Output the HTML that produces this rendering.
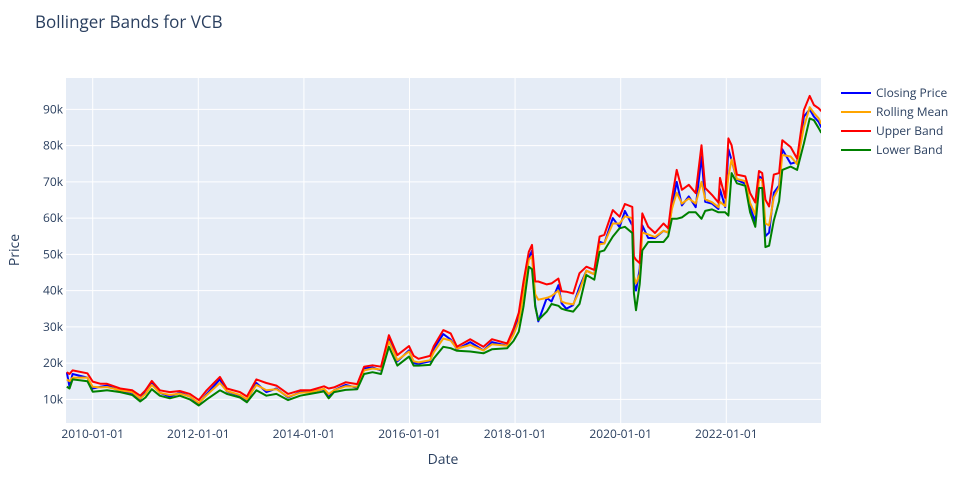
<!DOCTYPE html>
<html><head><meta charset="utf-8"><style>
body{margin:0;background:#fff;}
svg{font-family:"Open Sans","Liberation Sans",sans-serif;}
</style></head><body>
<svg id="chart" width="957" height="475" xmlns="http://www.w3.org/2000/svg">
<rect x="0" y="0" width="957" height="475" fill="#fff"/>
<rect x="66" y="78" width="755" height="345" fill="#e5ecf6"/>
<g id="grid"></g>
<defs><clipPath id="clip"><rect x="66" y="78" width="755" height="345"/></clipPath></defs>
<g id="series" clip-path="url(#clip)"></g>
<g id="ticks"></g>
<text x="35" y="28" font-size="17" fill="#2a3f5f">Bollinger Bands for VCB</text>
<text x="443" y="464" font-size="14" fill="#2a3f5f" text-anchor="middle">Date</text>
<text x="19" y="250" font-size="14" fill="#2a3f5f" text-anchor="middle" transform="rotate(-90 19 250)">Price</text>
<g id="legend"></g>
</svg>
<script>
const dates=[2009.51,2009.56,2009.62,2009.9,2010.0,2010.15,2010.27,2010.52,2010.75,2010.9,2011.0,2011.12,2011.27,2011.46,2011.65,2011.84,2012.01,2012.16,2012.41,2012.54,2012.79,2012.92,2013.1,2013.29,2013.48,2013.7,2013.93,2014.12,2014.38,2014.47,2014.57,2014.79,2015.01,2015.14,2015.3,2015.46,2015.61,2015.77,2015.99,2016.08,2016.17,2016.39,2016.46,2016.64,2016.78,2016.9,2017.15,2017.4,2017.56,2017.85,2017.97,2018.07,2018.16,2018.26,2018.32,2018.38,2018.44,2018.6,2018.69,2018.82,2018.88,2018.97,2019.1,2019.22,2019.35,2019.5,2019.6,2019.69,2019.85,2019.98,2020.08,2020.22,2020.25,2020.29,2020.36,2020.41,2020.52,2020.65,2020.81,2020.9,2020.97,2021.06,2021.16,2021.29,2021.42,2021.53,2021.6,2021.73,2021.85,2021.88,2021.98,2022.04,2022.1,2022.2,2022.36,2022.45,2022.55,2022.62,2022.68,2022.74,2022.81,2022.9,2023.0,2023.06,2023.22,2023.34,2023.47,2023.58,2023.66,2023.75,2023.8];
const closePrice=[17.5,13.5,17.0,16.0,13.0,13.5,13.8,12.3,11.8,10.0,12.5,14.8,11.8,10.8,11.8,10.8,8.8,11.5,15.5,12.2,11.0,9.5,14.5,12.0,13.0,10.5,12.0,12.2,12.8,10.5,12.5,14.0,13.2,18.5,18.8,18.0,27.0,20.5,23.5,20.0,19.8,20.5,24.0,28.0,26.5,23.8,25.8,23.5,25.8,24.8,28.5,33.0,41.0,49.0,51.0,36.0,31.5,38.0,37.0,41.5,36.5,35.0,36.0,41.0,45.5,44.5,53.5,53.0,60.0,57.5,62.0,58.0,42.0,40.0,46.0,58.0,54.5,54.5,56.5,56.0,63.0,70.0,63.5,66.0,63.0,77.0,64.5,64.0,62.5,68.0,63.0,79.0,76.0,70.5,69.5,63.0,59.0,71.5,71.0,55.0,56.0,67.0,69.0,79.0,75.0,75.5,88.0,90.0,88.0,86.5,85.0];
const rollingMean=[15.5,15.0,16.0,16.0,13.5,13.3,13.4,12.5,12.0,10.2,11.5,14.0,11.8,11.2,11.6,10.8,9.0,11.2,14.5,12.3,11.2,10.0,14.0,12.5,12.8,10.7,11.8,12.0,12.9,11.5,12.5,13.6,13.5,18.0,18.5,18.2,26.0,20.8,23.2,20.5,20.2,20.8,23.0,26.8,26.2,24.0,25.0,23.5,25.2,24.8,27.8,31.5,39.0,48.5,49.5,39.0,37.5,38.0,38.5,40.0,37.0,36.5,36.2,40.0,45.5,44.5,52.8,53.0,58.5,58.5,60.5,60.0,44.0,42.0,44.5,56.0,55.5,54.8,56.5,56.0,62.5,67.0,64.0,65.4,64.0,70.0,65.2,64.4,63.0,64.5,63.3,71.5,76.2,70.8,70.2,64.2,61.0,70.6,70.5,58.5,58.0,65.7,68.5,77.4,77.0,74.9,85.2,90.6,89.0,87.5,86.0];
const upperBand=[17.5,17.0,18.0,17.2,14.9,14.3,14.3,13.0,12.5,11.0,12.5,15.1,12.5,12.0,12.3,11.5,9.8,12.5,16.2,13.0,12.0,10.8,15.5,14.5,13.8,11.5,12.5,12.5,13.6,13.0,13.3,14.7,14.2,19.0,19.4,19.0,27.7,22.2,24.7,22.0,21.2,22.0,24.7,29.1,28.2,24.5,26.6,24.5,26.6,25.4,29.5,33.9,42.5,50.7,52.6,42.5,42.5,41.7,42.0,43.3,39.8,39.7,39.2,44.8,46.6,45.7,54.9,55.4,62.2,60.4,63.9,63.1,49.4,48.5,47.6,61.3,57.6,55.9,58.5,57.2,65.4,73.3,67.8,69.2,66.9,80.1,68.3,66.4,64.3,71.1,65.6,82.0,80.1,72.0,71.5,66.9,64.3,73.0,72.4,65.1,63.2,72.0,72.4,81.5,79.6,76.4,89.8,93.7,91.2,90.3,89.5];
const lowerBand=[13.5,13.0,15.5,15.0,12.1,12.3,12.5,12.0,11.2,9.4,10.5,12.8,11.0,10.3,11.0,10.0,8.3,10.0,12.5,11.5,10.5,9.2,12.5,11.0,11.5,9.8,11.0,11.5,12.2,10.3,12.0,12.6,12.8,17.0,17.5,17.0,24.5,19.3,21.8,19.3,19.3,19.5,21.3,24.5,24.1,23.4,23.2,22.7,23.8,24.1,26.1,28.7,35.6,46.6,45.9,35.6,31.9,34.2,36.3,35.8,35.0,34.6,34.2,36.3,44.3,43.0,50.7,51.1,54.9,57.2,57.6,55.9,39.3,34.6,41.8,51.1,53.4,53.4,53.4,55.0,59.8,59.8,60.2,61.6,61.6,59.8,62.0,62.4,61.6,61.6,61.6,60.7,72.4,69.6,68.9,61.6,57.6,68.3,68.3,52.0,52.4,59.3,64.6,73.3,74.2,73.3,80.6,87.5,87.0,84.8,83.5];
const yTicks=[10,20,30,40,50,60,70,80,90];
const xTickYears=[2010,2012,2014,2016,2018,2020,2022];
const seriesNames=["Closing Price","Rolling Mean","Upper Band","Lower Band"];
const seriesColors=["#0000ff","#ffa500","#ff0000","#008000"];

const NS="http://www.w3.org/2000/svg";
const X0=66,X1=821,Y0=78,Y1=423;
function xScale(yr){return 92.7+(yr-2010)*52.8;}
function yScale(v){return 435.6-v*3.625;}
function mk(tag,attrs,parent){const e=document.createElementNS(NS,tag);for(const k in attrs)e.setAttribute(k,attrs[k]);parent.appendChild(e);return e;}
const grid=document.getElementById('grid'),ticks=document.getElementById('ticks'),ser=document.getElementById('series'),leg=document.getElementById('legend');
yTicks.forEach(t=>{const y=yScale(t);
 const l=mk('line',{x1:X0,x2:X1,y1:y,y2:y,stroke:'#fff','stroke-width':1},grid);
 
 
 const tx=mk('text',{x:63,y:y+4,'font-size':12,fill:'#2a3f5f','text-anchor':'end'},ticks);
 tx.textContent=t+'k';
 
 
});
xTickYears.forEach(t=>{const x=xScale(t);
 const l=mk('line',{x1:x,x2:x,y1:Y0,y2:Y1,stroke:'#fff','stroke-width':1},grid);
 
 
 const tx=mk('text',{x:x,y:438,'font-size':12,fill:'#2a3f5f','text-anchor':'middle'},ticks);
 tx.textContent=t+'-01-01';
 
 
});
[closePrice,rollingMean,upperBand,lowerBand].forEach((arr,i)=>{
 const d=arr.map((v,j)=>(j?'L':'M')+xScale(dates[j]).toFixed(1)+','+yScale(v).toFixed(1)).join('');
 const p=mk('path',{d:d,fill:'none',stroke:seriesColors[i],'stroke-width':2,'stroke-linejoin':'round'},ser);
 
 
 const y=93+i*19;
 const g=mk('g',{},leg);
 
 
 mk('line',{x1:841,x2:871,y1:y,y2:y,stroke:seriesColors[i],'stroke-width':2},g);
 const tx=mk('text',{x:876,y:y+4,'font-size':12,fill:'#2a3f5f'},g);
 tx.textContent=seriesNames[i];
});
</script>
</body></html>
